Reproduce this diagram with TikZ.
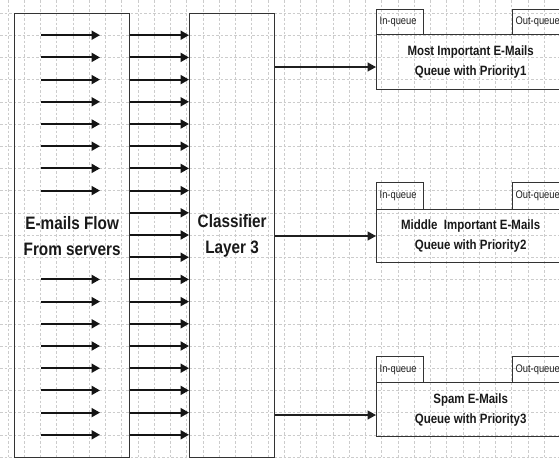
\documentclass[tikz,border=0pt]{standalone}
\usepackage{fontspec}
\usetikzlibrary{arrows.meta}
\newfontfamily\nar{Liberation Sans}[FakeStretch=0.85]
\begin{document}
\begin{tikzpicture}[x=1pt,y=-1pt,
  box/.style={draw=black!80, line width=1.3pt, inner sep=0pt, anchor=north west},
  arr/.style={line width=2pt, draw=black!92, -{Triangle[length=8.5pt,width=9pt]}},
  outarr/.style={line width=1.4pt, draw=black!88, -{Triangle[length=8.5pt,width=9pt]}},
  gridline/.style={draw=black!20, line width=0.6pt, dash pattern=on 2.5pt off 2pt},
  big/.style={font=\nar\bfseries\fontsize{18}{26}\selectfont, text=black!90, align=center},
  qtext/.style={font=\nar\bfseries\fontsize{13.5}{20}\selectfont, text=black!90, align=center},
  tabbox/.style={box, font=\nar\fontsize{11}{12}\selectfont, text=black!88, align=left, inner xsep=3pt, minimum height=25pt}]
\useasboundingbox (0,0) rectangle (559,458);
\clip (0,0) rectangle (559,458);
\fill[white] (0,0) rectangle (559,458);
% background grid
\foreach \i in {0,...,34} \draw[gridline] ({8+16.25*\i},0) -- ({8+16.25*\i},458);
\foreach \i in {0,...,20} \draw[gridline] (0,{13+22.2*\i}) -- (559,{13+22.2*\i});
% main boxes
\node[box, big, minimum width=115pt, minimum height=444pt] (lb) at (14,13) {E-mails Flow\\From servers};
\node[box, big, minimum width=85pt, minimum height=444pt] (cl) at (189,13) {Classifier\\Layer 3};
% arrows inside the flow box
\foreach \k in {1,...,8,12,13,...,19} {
  \pgfmathsetmacro\yy{13+22.2*\k}
  \draw[arr] ([xshift=27pt]lb.west |- 0,\yy) -- ([xshift=86pt]lb.west |- 0,\yy);
}
% arrows between flow box and classifier
\foreach \k in {1,...,19} {
  \pgfmathsetmacro\yy{13+22.2*\k}
  \draw[arr] (lb.east |- 0,\yy) -- (cl.west |- 0,\yy);
}
% queues
\node[box, qtext, minimum width=188pt, minimum height=55pt] (q1) at (376,34) {Most Important E-Mails\\Queue with Priority1};
\node[tabbox, text width=41pt] (q1in) at (376,9) {In-queue};
\node[tabbox, text width=46pt] (q1out) at (512,9) {Out-queue};
\node[box, qtext, minimum width=188pt, minimum height=53pt] (q2) at (376,209) {Middle\ \ Important E-Mails\\Queue with Priority2};
\node[tabbox, text width=41pt, minimum height=27pt] (q2in) at (376,182) {In-queue};
\node[tabbox, text width=46pt, minimum height=27pt] (q2out) at (512,182) {Out-queue};
\node[box, qtext, minimum width=188pt, minimum height=54pt] (q3) at (376,382) {Spam E-Mails\\Queue with Priority3};
\node[tabbox, text width=41pt, minimum height=26pt] (q3in) at (376,356) {In-queue};
\node[tabbox, text width=46pt, minimum height=26pt] (q3out) at (512,356) {Out-queue};
% classifier outputs
\draw[outarr] (cl.east |- 0,67) -- (q1.west |- 0,67);
\draw[outarr] (cl.east |- 0,236) -- (q2.west |- 0,236);
\draw[outarr] (cl.east |- 0,415) -- (q3.west |- 0,415);
\end{tikzpicture}
\end{document}
